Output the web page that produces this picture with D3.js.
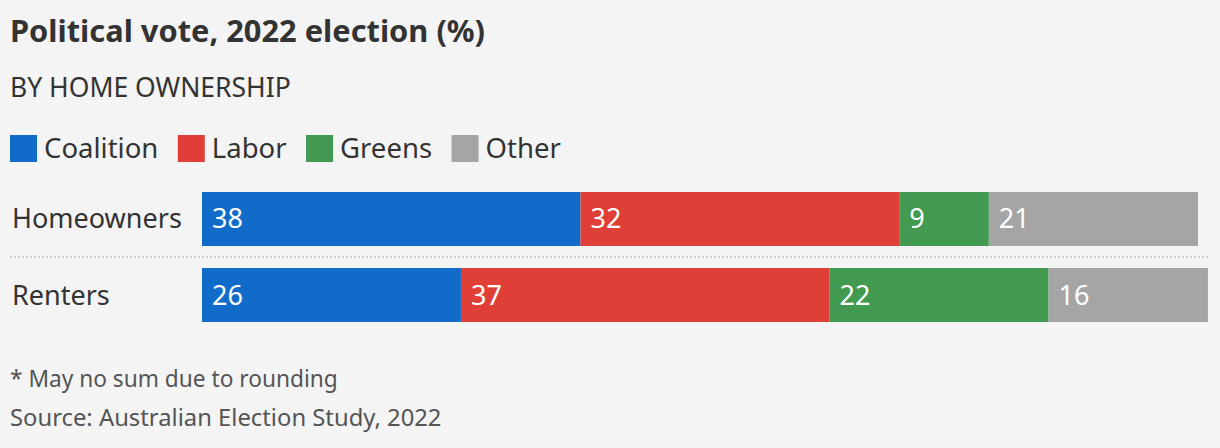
<!DOCTYPE html>
<html><head><meta charset="utf-8">
<script src="https://cdn.jsdelivr.net/npm/d3@7"></script>
<style>
html,body{margin:0;padding:0;background:#f4f4f4;}
svg{display:block;font-family:"Noto Sans","Open Sans",sans-serif;}
</style></head>
<body><svg id="chart" width="1220" height="448"></svg>
<script>
const title = "Political vote, 2022 election (%)";
const subtitle = "BY HOME OWNERSHIP";
const categories = ["Homeowners", "Renters"];
const parties = ["Coalition", "Labor", "Greens", "Other"];
const colors = ["#116cc9", "#e03f37", "#429a50", "#a5a5a5"];
const coalition = [38, 26];
const labor = [32, 37];
const greens = [9, 22];
const other = [21, 16];
const note = "* May no sum due to rounding";
const source = "Source: Australian Election Study, 2022";

const rows = categories.map((c, i) => ({cat: c, Coalition: coalition[i], Labor: labor[i], Greens: greens[i], Other: other[i]}));
const stack = d3.stack().keys(parties)(rows);

const svg = d3.select("#chart");
const W = 1220;
svg.append("rect").attr("width", W).attr("height", 448).attr("fill", "#f4f4f4");

svg.append("text").attr("x", 10).attr("y", 42).text(title)
  .attr("font-size", 30.8).attr("font-weight", 700).attr("fill", "#333");
svg.append("text").attr("x", 10).attr("y", 97).text(subtitle)
  .attr("font-size", 26.5).attr("fill", "#333");

// legend
const color = d3.scaleOrdinal().domain(parties).range(colors);
let lx = 10;
const leg = svg.append("g");
parties.forEach(p => {
  const g = leg.append("g").attr("transform", `translate(${lx},0)`);
  g.append("rect").attr("x", 0).attr("y", 135).attr("width", 27).attr("height", 27).attr("fill", color(p));
  const t = g.append("text").attr("x", 34).attr("y", 158).text(p).attr("font-size", 27.5).attr("fill", "#333");
  lx += 34 + t.node().getComputedTextLength() + 19.5;
});

const x = d3.scaleLinear().domain([0, 100]).range([202, 1198]);
const y = d3.scaleBand().domain(categories).range([192, 322]).paddingInner(0.2895).paddingOuter(0);

// separator
const sepY = (y("Homeowners") + y.bandwidth() + y("Renters")) / 2;
svg.append("line").attr("x1", 10).attr("x2", 1208)
  .attr("y1", sepY).attr("y2", sepY)
  .attr("stroke", "#cfcfcf").attr("stroke-width", 2).attr("stroke-dasharray", "2,2");

// category labels
svg.selectAll("text.cat").data(categories).join("text").attr("class", "cat")
  .attr("x", 12).attr("y", d => y(d) + y.bandwidth() / 2 + 9.5)
  .text(d => d).attr("font-size", 27).attr("fill", "#333");

const layers = svg.selectAll("g.layer").data(stack).join("g").attr("class", "layer")
  .attr("fill", d => color(d.key));
layers.selectAll("rect").data(d => d).join("rect")
  .attr("x", d => x(d[0])).attr("width", d => x(d[1]) - x(d[0]))
  .attr("y", d => y(d.data.cat)).attr("height", y.bandwidth());
layers.selectAll("text").data(d => d.map(v => ({v, key: d.key}))).join("text")
  .attr("x", d => x(d.v[0]) + 10).attr("y", d => y(d.v.data.cat) + y.bandwidth() / 2 + 9.5)
  .text(d => d.v.data[d.key]).attr("fill", "#fff").attr("font-size", 27);

svg.append("text").attr("x", 10).attr("y", 387).text(note).attr("font-size", 22.7).attr("fill", "#555");
svg.append("text").attr("x", 10).attr("y", 426).text(source).attr("font-size", 23.8).attr("fill", "#555");
</script></body></html>
